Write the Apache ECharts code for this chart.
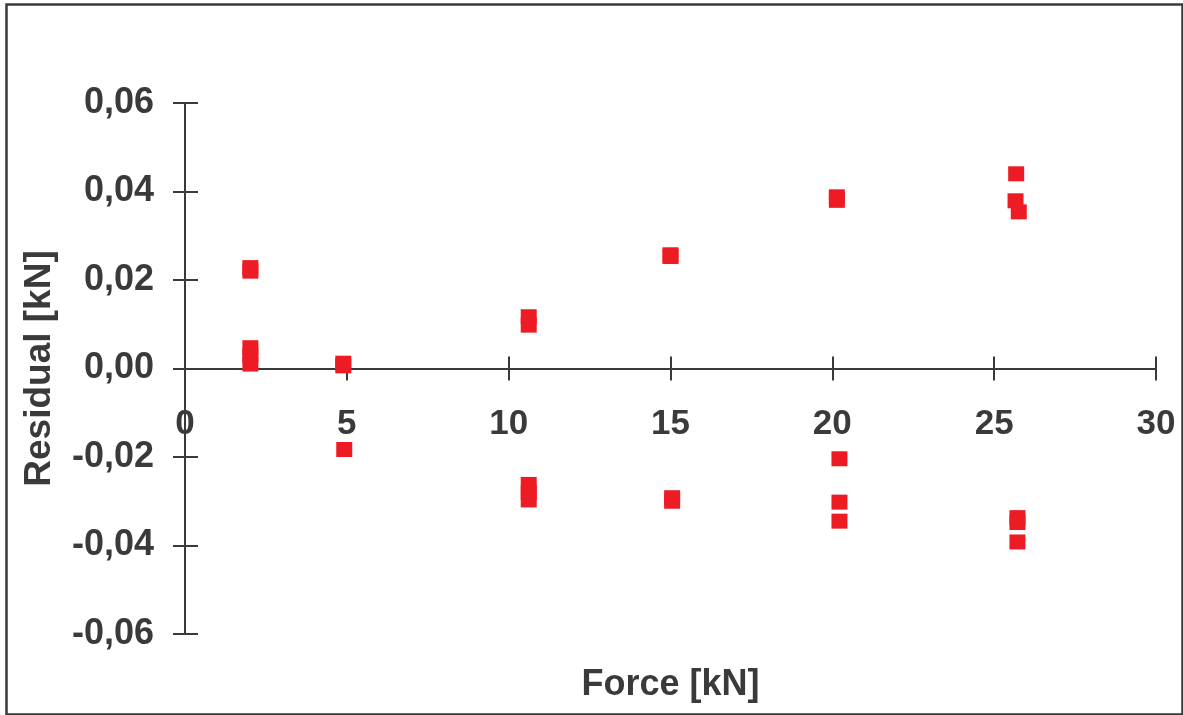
<!DOCTYPE html>
<html>
<head>
<meta charset="utf-8">
<style>
  html, body { margin: 0; padding: 0; background: #fff; }
  #chart { width: 1183px; height: 715px; }
</style>
<script src="https://cdn.jsdelivr.net/npm/echarts@6/dist/echarts.min.js"></script>
</head>
<body>
<div id="chart"></div>
<script>
// Residuals of the force calibration, per applied load
const force = [
  2.02, 2.02, 2.02, 2.02, 2.02,
  4.89, 4.89, 4.92,
  10.62, 10.62, 10.62, 10.62, 10.62,
  15.0, 15.0, 15.05, 15.05,
  20.14, 20.14, 20.22, 20.22, 20.22,
  25.68, 25.66, 25.76, 25.72, 25.72, 25.72
];
const residual = [
  0.0228, 0.0220, 0.0047, 0.0030, 0.0010,
  0.0012, 0.0006, -0.0183,
  0.0117, 0.0098, -0.0262, -0.0280, -0.0297,
  0.0257, 0.0253, -0.0292, -0.0300,
  0.0388, 0.0380, -0.0204, -0.0302, -0.0345,
  0.0440, 0.0379, 0.0354, -0.0337, -0.0348, -0.0392
];
const xTicks = [0, 5, 10, 15, 20, 25, 30];
const yTicks = [-0.06, -0.04, -0.02, 0.00, 0.02, 0.04, 0.06];

const ink = '#3a3a3c';
const font = '"Liberation Sans", Arial, sans-serif';
const fmtY = v => v.toFixed(2).replace('.', ',');

const points = force.map((f, i) => [f, residual[i]]);

const baseX = {
  type: 'value', min: xTicks[0], max: xTicks[xTicks.length - 1], interval: 5,
  splitLine: { show: false }
};
const baseY = {
  type: 'value', min: yTicks[0], max: yTicks[yTicks.length - 1], interval: 0.02,
  splitLine: { show: false },
  axisLine: { onZero: false, lineStyle: { color: ink, width: 2 } }
};

const chart = echarts.init(document.getElementById('chart'), null, { renderer: 'canvas' });
chart.setOption({
  animation: false,
  backgroundColor: '#fff',
  grid: { left: 185, right: 27, top: 103, bottom: 81, containLabel: false, outerBoundsMode: 'none' },
  xAxis: [
    Object.assign({}, baseX, {
      // labels and title are placed from the plot's lower edge, so offsets are measured from there
      name: 'Force [kN]', nameLocation: 'middle', nameGap: 33,
      nameTextStyle: { color: ink, fontSize: 36, fontWeight: 'bold', fontFamily: font },
      axisLine: { onZero: true, onZeroAxisIndex: 0, lineStyle: { color: ink, width: 2 } },
      axisTick: { show: true, length: 12, lineStyle: { color: ink, width: 2 } },
      axisLabel: { margin: -227, color: ink, fontSize: 35, fontWeight: 'bold', fontFamily: font,
                   formatter: v => String(v) }
    }),
    Object.assign({}, baseX, {
      position: 'bottom',
      axisLine: { onZero: true, onZeroAxisIndex: 1, lineStyle: { color: ink, width: 2 } },
      axisTick: { show: true, inside: true, length: 12, lineStyle: { color: ink, width: 2 } },
      axisLabel: { show: false }
    })
  ],
  yAxis: [
    Object.assign({}, baseY, {
      name: 'Residual [kN]', nameLocation: 'middle', nameGap: 127, nameRotate: 90,
      nameTextStyle: { color: ink, fontSize: 37, fontWeight: 'bold', fontFamily: font },
      axisTick: { show: true, length: 12, lineStyle: { color: ink, width: 2 } },
      axisLabel: { margin: 31, color: ink, fontSize: 36, fontWeight: 'bold', fontFamily: font,
                   formatter: fmtY }
    }),
    Object.assign({}, baseY, {
      position: 'left',
      axisTick: { show: true, inside: true, length: 13, lineStyle: { color: ink, width: 2 } },
      axisLabel: { show: false }
    })
  ],
  graphic: [{
    type: 'rect', left: 4, top: 2, silent: true,
    shape: { width: 1176, height: 710 },
    style: { fill: 'none', stroke: ink, lineWidth: 2.5 }
  }],
  series: [{
    type: 'scatter', xAxisIndex: 0, yAxisIndex: 0,
    data: points, symbol: 'rect', symbolSize: [16, 15],
    itemStyle: { color: '#ed1c24', opacity: 1 }, z: 3
  }]
});
</script>
</body>
</html>
